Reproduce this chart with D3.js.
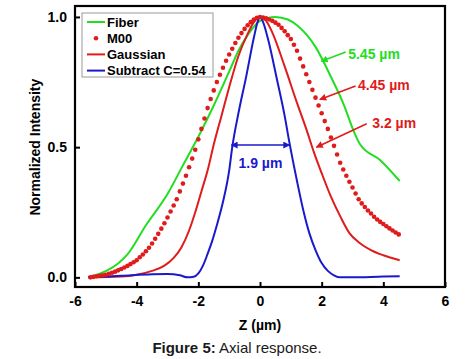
<!DOCTYPE html>
<html>
<head>
<meta charset="utf-8">
<script src="https://cdn.jsdelivr.net/npm/d3@7"></script>
<style>
  body { margin: 0; background: #fff; }
  text { font-family: "Liberation Sans", Arial, sans-serif; }
</style>
</head>
<body>
<script>
// series: [z (um), normalized intensity]
const fiber = [[-5.57,0],[-4.3,0.088],[-3.7,0.20],[-3.0,0.32],[-2.5,0.43],[-2.0,0.54],[-1.5,0.66],
  [-1.0,0.79],[-0.7,0.87],[-0.4,0.93],[0,0.985],[0.5,1.0],[0.9,0.99],[1.2,0.968],[1.8,0.885],
  [2.3,0.77],[2.7,0.668],[3.07,0.553],[3.25,0.51],[3.9,0.45],[4.53,0.37]];

const gaussian = [[-5.57,0],[-4.5,0.003],[-4.0,0.01],[-3.5,0.025],[-3.1,0.045],[-2.8,0.075],
  [-2.55,0.115],[-2.3,0.18],[-2.1,0.25],[-1.9,0.33],[-1.7,0.41],[-1.5,0.51],[-1.25,0.62],
  [-1.0,0.73],[-0.7,0.85],[-0.4,0.935],[-0.2,0.98],[0,1.0],[0.2,0.985],[0.4,0.94],[0.8,0.81],
  [1.2,0.67],[1.5,0.57],[1.75,0.48],[2.0,0.40],[2.3,0.31],[2.6,0.235],[2.9,0.17],[3.2,0.135],
  [3.6,0.105],[4.0,0.085],[4.53,0.066]];

const subtract = [[-5.57,0],[-4.5,0.006],[-3.5,0.012],[-3.0,0.013],[-2.6,0.008],[-2.35,0.0],
  [-2.15,0.002],[-2.0,0.015],[-1.85,0.045],[-1.7,0.09],[-1.55,0.14],[-1.4,0.2],[-1.2,0.29],
  [-1.0,0.41],[-0.9,0.5],[-0.7,0.63],[-0.45,0.77],[-0.2,0.92],[-0.08,0.98],[0,1.0],[0.1,0.98],
  [0.25,0.92],[0.55,0.76],[0.8,0.62],[0.95,0.52],[1.2,0.37],[1.4,0.26],[1.6,0.17],[1.8,0.105],
  [2.0,0.055],[2.2,0.025],[2.4,0.008],[2.6,0.0],[3.0,0.0],[4.0,0.003],[4.53,0.004]];

const m00 = [[-5.5,0.000],[-5.4,0.002],[-5.3,0.004],[-5.2,0.006],[-5.1,0.008],[-5.0,0.010],
  [-4.9,0.014],[-4.8,0.018],[-4.7,0.022],[-4.6,0.027],[-4.5,0.032],[-4.4,0.038],[-4.3,0.044],
  [-4.2,0.051],[-4.1,0.058],[-4.0,0.066],[-3.9,0.077],[-3.8,0.088],[-3.7,0.100],[-3.6,0.114],
  [-3.5,0.130],[-3.4,0.148],[-3.3,0.167],[-3.2,0.187],[-3.1,0.208],[-3.0,0.230],[-2.9,0.253],
  [-2.8,0.276],[-2.7,0.300],[-2.6,0.330],[-2.5,0.360],[-2.4,0.390],[-2.3,0.423],[-2.2,0.456],
  [-2.1,0.490],[-2.0,0.530],[-1.9,0.570],[-1.8,0.610],[-1.7,0.650],[-1.6,0.685],[-1.5,0.718],
  [-1.4,0.750],[-1.3,0.778],[-1.2,0.805],[-1.1,0.832],[-1.0,0.856],[-0.9,0.878],[-0.8,0.900],
  [-0.7,0.920],[-0.6,0.938],[-0.5,0.954],[-0.4,0.968],[-0.3,0.980],[-0.2,0.990],[-0.1,0.997],
  [0.0,1.000],[0.1,0.998],[0.2,0.995],[0.3,0.990],[0.4,0.985],[0.5,0.978],[0.6,0.970],
  [0.7,0.958],[0.8,0.945],[0.9,0.930],[1.0,0.915],[1.1,0.893],[1.2,0.870],[1.3,0.840],
  [1.4,0.810],[1.5,0.780],[1.6,0.750],[1.7,0.720],[1.8,0.690],[1.9,0.660],[2.0,0.630],
  [2.1,0.600],[2.2,0.570],[2.3,0.537],[2.4,0.505],[2.5,0.472],[2.6,0.440],[2.7,0.414],
  [2.8,0.390],[2.9,0.367],[3.0,0.345],[3.1,0.322],[3.2,0.300],[3.3,0.284],[3.4,0.270],
  [3.5,0.257],[3.6,0.245],[3.7,0.233],[3.8,0.222],[3.9,0.213],[4.0,0.205],[4.1,0.196],
  [4.2,0.188],[4.3,0.180],[4.4,0.172],[4.5,0.165]];

const xTicks = [-6, -4, -2, 0, 2, 4, 6];
const yTicks = [0, 0.5, 1.0];

const legendNames = ['Fiber', 'M00', 'Gaussian', 'Subtract C=0.54'];

// width labels: text anchor, arrow from -> to (data coords)
const notes = [
  {text: '5.45 \u00b5m', color: '#22dd22', tx: 2.86, ty: 0.84, from: [2.78, 0.865], to: [1.99, 0.83]},
  {text: '4.45 \u00b5m', color: '#e01b1b', tx: 3.18, ty: 0.718, from: [3.1, 0.735], to: [1.94, 0.683]},
  {text: '3.2 \u00b5m', color: '#e01b1b', tx: 3.64, ty: 0.574, from: [3.46, 0.59], to: [1.83, 0.50]}
];
const fwhm = {text: '1.9 \u00b5m', color: '#1a1acc', from: -0.93, to: 0.96, y: 0.508, ty: 0.42};

const width = 475;
const height = 359;
const m = {left: 75, right: 30, top: 6, bottom: 72};

const svg = d3.select('body')
  .append('svg')
  .attr('width', width)
  .attr('height', height);

const x = d3.scaleLinear().domain([-6, 6]).range([m.left, width - m.right]);
const y = d3.scaleLinear().domain([-0.037, 1.042]).range([height - m.bottom, m.top]);

const colors = {fiber: '#22dd22', m00: '#e01b1b', gauss: '#e01b1b', sub: '#1a1acc'};

// arrow heads
const defs = svg.append('defs');
function marker(id, color) {
  defs.append('marker')
    .attr('id', id)
    .attr('viewBox', '0 0 10 10')
    .attr('refX', 9).attr('refY', 5)
    .attr('markerWidth', 7).attr('markerHeight', 7)
    .attr('markerUnits', 'userSpaceOnUse')
    .attr('orient', 'auto-start-reverse')
    .append('path')
    .attr('d', 'M0,0 L10,5 L0,10 z')
    .attr('fill', color);
}
marker('ag', colors.fiber);
marker('ar', colors.m00);
marker('ab', colors.sub);

const line = d3.line()
  .x(d => x(d[0]))
  .y(d => y(d[1]))
  .curve(d3.curveMonotoneX);

svg.append('path').datum(fiber)
  .attr('d', line).attr('fill', 'none')
  .attr('stroke', colors.fiber).attr('stroke-width', 2);

svg.append('path').datum(gaussian)
  .attr('d', line).attr('fill', 'none')
  .attr('stroke', colors.gauss).attr('stroke-width', 2);

svg.append('path').datum(subtract)
  .attr('d', line).attr('fill', 'none')
  .attr('stroke', colors.sub).attr('stroke-width', 2);

svg.append('g').selectAll('circle')
  .data(m00)
  .join('circle')
  .attr('cx', d => x(d[0]))
  .attr('cy', d => y(d[1]))
  .attr('r', 2.3)
  .attr('fill', colors.m00);

// axes, ticks pointing inward
const xAxis = svg.append('g')
  .attr('transform', `translate(0,${height - m.bottom})`)
  .call(d3.axisBottom(x).tickValues(xTicks).tickSize(-5).tickPadding(9).tickFormat(d => String(d)));
const yAxis = svg.append('g')
  .attr('transform', `translate(${m.left},0)`)
  .call(d3.axisLeft(y).tickValues(yTicks).tickSize(-5).tickPadding(8).tickFormat(d => d.toFixed(1)));

[xAxis, yAxis].forEach(a => {
  a.select('.domain').remove();
  a.selectAll('line').attr('stroke', '#000').attr('stroke-width', 2);
  a.selectAll('text')
    .attr('fill', '#000')
    .style('font-size', '14px')
    .style('font-weight', 'bold');
});

// frame
svg.append('rect')
  .attr('x', m.left).attr('y', m.top)
  .attr('width', width - m.left - m.right)
  .attr('height', height - m.top - m.bottom)
  .attr('fill', 'none')
  .attr('stroke', '#000')
  .attr('stroke-width', 2.2);

// axis titles
svg.append('text')
  .attr('x', x(0)).attr('y', 330)
  .attr('text-anchor', 'middle')
  .style('font-size', '14px').style('font-weight', 'bold')
  .text('Z (\u00b5m)');

svg.append('text')
  .attr('transform', `translate(40,${y(0.5)}) rotate(-90)`)
  .attr('text-anchor', 'middle')
  .style('font-size', '14px').style('font-weight', 'bold')
  .text('Normalized Intensity');

// legend
const lg = svg.append('g').attr('transform', 'translate(82,13)');
lg.append('rect')
  .attr('width', 131).attr('height', 64)
  .attr('fill', '#fff')
  .attr('stroke', '#999').attr('stroke-width', 1);
const legendColors = [colors.fiber, colors.m00, colors.gauss, colors.sub];
legendNames.forEach((name, i) => {
  const row = lg.append('g').attr('transform', `translate(0,${9 + i * 16.2})`);
  if (name === 'M00') {
    row.append('circle').attr('cx', 14).attr('cy', 0).attr('r', 2.3).attr('fill', legendColors[i]);
  } else {
    row.append('line')
      .attr('x1', 5).attr('x2', 23).attr('y1', 0).attr('y2', 0)
      .attr('stroke', legendColors[i]).attr('stroke-width', 2);
  }
  row.append('text')
    .attr('x', 25).attr('y', 0).attr('dy', '0.36em')
    .style('font-size', '13px').style('font-weight', 'bold')
    .text(name);
});

// width annotations
notes.forEach(n => {
  svg.append('line')
    .attr('x1', x(n.from[0])).attr('y1', y(n.from[1]))
    .attr('x2', x(n.to[0])).attr('y2', y(n.to[1]))
    .attr('stroke', n.color).attr('stroke-width', 1.6)
    .attr('marker-end', n.color === colors.fiber ? 'url(#ag)' : 'url(#ar)');
  svg.append('text')
    .attr('x', x(n.tx)).attr('y', y(n.ty))
    .attr('fill', n.color)
    .style('font-size', '14px').style('font-weight', 'bold')
    .text(n.text);
});

svg.append('line')
  .attr('x1', x(fwhm.from)).attr('x2', x(fwhm.to))
  .attr('y1', y(fwhm.y)).attr('y2', y(fwhm.y))
  .attr('stroke', fwhm.color).attr('stroke-width', 1.4)
  .attr('marker-start', 'url(#ab)')
  .attr('marker-end', 'url(#ab)');
svg.append('text')
  .attr('x', x((fwhm.from + fwhm.to) / 2)).attr('y', y(fwhm.ty))
  .attr('text-anchor', 'middle')
  .attr('fill', fwhm.color)
  .style('font-size', '14px').style('font-weight', 'bold')
  .text(fwhm.text);

// caption
const cap = svg.append('text')
  .attr('x', 237).attr('y', 353)
  .attr('text-anchor', 'middle')
  .attr('fill', '#1a1a1a')
  .style('font-size', '15px');
cap.append('tspan').style('font-weight', 'bold').text('Figure 5:');
cap.append('tspan').text(' Axial response.');
</script>
</body>
</html>
